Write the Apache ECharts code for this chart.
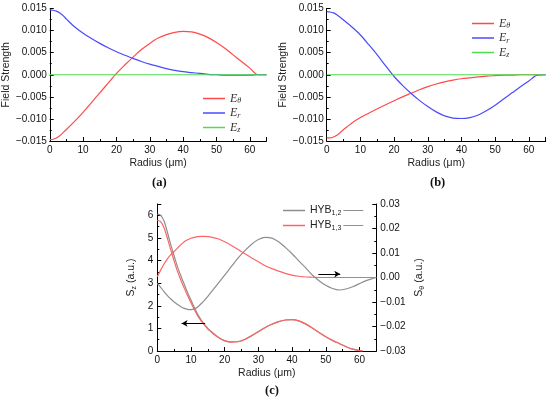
<!DOCTYPE html>
<html>
<head>
<meta charset="utf-8">
<script src="https://cdn.jsdelivr.net/npm/echarts@6/dist/echarts.min.js"></script>
<style>html,body{margin:0;padding:0;background:#fff;}#c{width:550px;height:404px;}</style>
</head>
<body>
<div id="c"></div>
<script>
// ---------- Panel (a) ----------
const aR = [0,1,2,3,4,5,7.5,10,12.5,15,17.5,20,22.5,25,27.5,30,32.5,35,37.5,40,42.5,45,47.5,50,52.5,55,57.5,60,62.5,65];
const aEtheta = [-0.0147,-0.0146,-0.0143,-0.0138,-0.0131,-0.0124,-0.0105,-0.0085,-0.0063,-0.0041,-0.0019,0.0003,0.0022,0.0040,0.0057,0.0071,0.0083,0.0091,0.0096,0.0098,0.0097,0.0092,0.0084,0.0073,0.0060,0.0045,0.0030,0.0015,0.0000,0.0000];
const aEr = [0.0147,0.0146,0.0144,0.0140,0.0134,0.0126,0.0108,0.0094,0.0082,0.0071,0.0061,0.0052,0.0044,0.0037,0.0030,0.0024,0.0019,0.0014,0.0010,0.0007,0.0005,0.0003,0.0001,0.0000,-0.0001,-0.0001,-0.0001,-0.0001,0.0000,0.0000];
const aEz = [0,0,0,0,0,0,0,0,0,0,0,0,0,0,0,0,0,0,0,0,0,0,0,0,0,0,0,0,0,0];

// ---------- Panel (b) ----------
const bR = [0,1,2,3,4,5,7.5,10,12.5,15,17.5,20,22.5,25,27.5,30,32.5,35,37.5,40,42.5,45,47.5,50,52.5,55,57.5,60,62.5,65];
const bEtheta = [-0.0143,-0.0143,-0.0141,-0.0137,-0.0131,-0.0124,-0.0109,-0.0097,-0.0087,-0.0077,-0.0068,-0.0059,-0.0050,-0.0042,-0.0034,-0.0027,-0.0021,-0.0016,-0.0012,-0.0009,-0.0007,-0.0005,-0.0003,-0.0002,-0.0001,-0.0001,0.0000,0.0000,0.0000,0.0000];
const bEr = [0.0143,0.0142,0.0140,0.0136,0.0130,0.0124,0.0108,0.0090,0.0068,0.0045,0.0020,-0.0004,-0.0024,-0.0042,-0.0058,-0.0072,-0.0084,-0.0093,-0.0098,-0.0099,-0.0097,-0.0091,-0.0081,-0.0069,-0.0055,-0.0041,-0.0027,-0.0014,-0.0001,0.0000];
const bEz = [0,0,0,0,0,0,0,0,0,0,0,0,0,0,0,0,0,0,0,0,0,0,0,0,0,0,0,0,0,0];

// ---------- Panel (c) ----------
const cRz = [0,1,2,3,4,5,6,7,8,9,10,11,12,13,14,15,16,18,20,22,24,26,28,30,32,34,36,38,40,42,44,46,48,50,52,54,56,58,60,61];
const szHyb12 = [6.05,6.00,5.75,5.25,4.70,4.20,3.72,3.32,2.95,2.58,2.25,1.92,1.62,1.38,1.18,1.00,0.86,0.62,0.46,0.40,0.42,0.52,0.68,0.86,1.04,1.18,1.30,1.37,1.39,1.33,1.20,1.02,0.82,0.63,0.47,0.33,0.19,0.08,0.02,0.00];
const szHyb13 = [5.78,5.72,5.45,4.98,4.47,3.98,3.52,3.13,2.78,2.44,2.13,1.83,1.55,1.33,1.14,0.97,0.84,0.61,0.45,0.39,0.41,0.51,0.67,0.85,1.03,1.18,1.30,1.37,1.39,1.33,1.20,1.02,0.82,0.63,0.47,0.33,0.19,0.08,0.02,0.00];
const cRt = [0,1,2,3,4,5,6,7,8,9,10,11,12,13,14,15,16,18,20,22,24,26,28,30,32,34,36,38,40,42,44,46,48,50,52,54,56,58,60,62,64,65];
const stHyb12 = [-0.0024,-0.0040,-0.0058,-0.0074,-0.0088,-0.0100,-0.0110,-0.0119,-0.0126,-0.0130,-0.0131,-0.0128,-0.0120,-0.0107,-0.0093,-0.0077,-0.0060,-0.0025,0.0010,0.0045,0.0080,0.0110,0.0136,0.0155,0.0164,0.0161,0.0146,0.0123,0.0097,0.0068,0.0040,0.0010,-0.0013,-0.0032,-0.0045,-0.0051,-0.0047,-0.0038,-0.0025,-0.0013,-0.0004,0.0000];
const stHyb13 = [0.0003,0.0030,0.0055,0.0076,0.0093,0.0106,0.0120,0.0134,0.0146,0.0154,0.0160,0.0164,0.0167,0.0168,0.0168,0.0167,0.0165,0.0158,0.0146,0.0131,0.0114,0.0097,0.0080,0.0064,0.0048,0.0036,0.0026,0.0017,0.0010,0.0005,0.0002,0.0001,0.0000,0.0000,0.0000,0.0000,0.0000,0.0000,0.0000,0.0000,0.0000,0.0000];

// tick ranges
const xTicks = {min: 0, max: 65, interval: 10};
const fieldTicks = {min: -0.015, max: 0.015, interval: 0.005};
const szTicks = {min: 0, max: 6.5, interval: 1};
const stTicks = {min: -0.03, max: 0.03, interval: 0.01};

const pairs = (xs, ys) => xs.map((x, i) => [x, ys[i]]);
const minus = v => (v < 0 ? '\u2212' : '');

const RED = '#ff4a4a', BLUE = '#4a4aff', GREEN = '#4ddd4d', GRAY = '#8e8e8e', RED2 = '#ff6464';
const SANS = '"Liberation Sans", Arial, sans-serif';
const SERIF = '"Liberation Serif", "Times New Roman", serif';

const tickStyle = {inside: true, length: 4, lineStyle: {color: '#000', width: 1}};
const minorStyle = {show: true, splitNumber: 2, length: 2, lineStyle: {color: '#000', width: 1}};
const lineStyle = {lineStyle: {color: '#000', width: 1}, onZero: false};
const labelStyle = {fontSize: 10, color: '#111', fontFamily: SANS};

function xAxisDef(gi) {
  return {
    type: 'value', gridIndex: gi, min: xTicks.min, max: xTicks.max, interval: xTicks.interval,
    axisLine: lineStyle, axisTick: tickStyle, minorTick: minorStyle, splitLine: {show: false},
    axisLabel: Object.assign({margin: 4, showMaxLabel: false, formatter: v => (v > 60 ? '' : String(v))}, labelStyle),
    name: 'Radius (\u03bcm)', nameLocation: 'middle', nameGap: 17,
    nameTextStyle: {fontSize: 10.5, color: '#222', fontFamily: SANS}
  };
}
function fieldAxis(gi) {
  return {
    type: 'value', gridIndex: gi, min: fieldTicks.min, max: fieldTicks.max, interval: fieldTicks.interval,
    axisLine: lineStyle, axisTick: tickStyle, minorTick: minorStyle, splitLine: {show: false},
    axisLabel: Object.assign({margin: 3, formatter: v => minus(v) + Math.abs(v).toFixed(3)}, labelStyle),
    name: 'Field Strength', nameLocation: 'middle', nameGap: 36,
    nameTextStyle: {fontSize: 10.5, color: '#222', fontFamily: SANS}
  };
}
const eRich = {
  e: {fontFamily: SERIF, fontStyle: 'italic', fontSize: 12, color: '#333', lineHeight: 13},
  s: {fontFamily: SERIF, fontStyle: 'italic', fontSize: 8, color: '#333', lineHeight: 7, verticalAlign: 'bottom'}
};
const eNames = {Et_a: '\u03b8', Er_a: 'r', Ez_a: 'z', Et_b: '\u03b8', Er_b: 'r', Ez_b: 'z'};
function eLegend(left, top, names) {
  return {
    show: true, orient: 'vertical', left: left, top: top, itemGap: 1.5, itemWidth: 22, itemHeight: 1.5,
    icon: 'rect', selectedMode: false, data: names, padding: 0,
    formatter: n => '{e|E}{s|' + eNames[n] + '}', textStyle: {rich: eRich, lineHeight: 13}
  };
}
const hybRich = {
  t: {fontFamily: SANS, fontSize: 10.5, color: '#222', lineHeight: 13},
  s: {fontFamily: SANS, fontSize: 7, color: '#222', lineHeight: 6, verticalAlign: 'bottom'},
  g: {width: 2, lineHeight: 13},
  lg: {width: 20, height: 1, lineHeight: 1, backgroundColor: GRAY},
  lr: {width: 20, height: 1, lineHeight: 1, backgroundColor: RED2}
};
const hybNames = {HYB12: ['1,2', 'lg'], HYB13: ['1,3', 'lr']};
const nameRich = {
  a: {fontSize: 10.5, color: '#222', fontFamily: SANS, lineHeight: 13},
  b: {fontSize: 7, color: '#222', fontFamily: SANS, lineHeight: 6, verticalAlign: 'bottom'}
};

function line(name, xi, yi, xs, ys, color, extra) {
  return Object.assign({
    type: 'line', name: name, xAxisIndex: xi, yAxisIndex: yi, data: pairs(xs, ys),
    showSymbol: false, symbol: 'none', smooth: 0.3, lineStyle: {color: color, width: 1.2}, itemStyle: {color: color},
    animation: false, silent: true
  }, extra || {});
}

const option = {
  backgroundColor: '#fff',
  animation: false,
  grid: [
    {left: 47.5, top: 8.5, width: 219, height: 132.5},
    {left: 326.7, top: 8.5, width: 219, height: 132.5},
    {left: 157.3, top: 204, width: 219, height: 147}
  ],
  xAxis: [xAxisDef(0), xAxisDef(1), xAxisDef(2)],
  yAxis: [
    fieldAxis(0),
    fieldAxis(1),
    {
      type: 'value', gridIndex: 2, position: 'left', min: szTicks.min, max: szTicks.max, interval: szTicks.interval,
      axisLine: lineStyle, axisTick: tickStyle, minorTick: minorStyle, splitLine: {show: false},
      axisLabel: Object.assign({margin: 4, showMaxLabel: false, formatter: v => (v > 6 ? '' : String(v))}, labelStyle),
      name: '{a|S}{b|z}{a| (a.u.)}', nameLocation: 'middle', nameGap: 20,
      nameTextStyle: {rich: nameRich}
    },
    {
      type: 'value', gridIndex: 2, position: 'right', min: stTicks.min, max: stTicks.max, interval: stTicks.interval,
      axisLine: lineStyle, axisTick: tickStyle, minorTick: minorStyle, splitLine: {show: false},
      axisLabel: Object.assign({margin: 4, formatter: v => minus(v) + Math.abs(v).toFixed(2)}, labelStyle),
      name: '{a|S}{b|\u03b8}{a| (a.u.)}', nameLocation: 'middle', nameGap: 36,
      nameTextStyle: {rich: nameRich}
    }
  ],
  legend: [
    eLegend(203, 92, ['Et_a', 'Er_a', 'Ez_a']),
    eLegend(472, 17, ['Et_b', 'Er_b', 'Ez_b']),
    {
      show: true, orient: 'vertical', left: 283, top: 204, itemGap: 2, itemWidth: 22, itemHeight: 1.5,
      icon: 'rect', selectedMode: false, data: ['HYB12', 'HYB13'], padding: 0,
      formatter: n => '{t|HYB}{s|' + hybNames[n][0] + '}{g| }{' + hybNames[n][1] + '| }',
      textStyle: {rich: hybRich, lineHeight: 13}
    }
  ],
  graphic: [
    {type: 'text', left: 152, top: 176, style: {text: '(a)', font: 'bold 12.5px ' + SERIF, fill: '#111'}},
    {type: 'text', left: 430, top: 176, style: {text: '(b)', font: 'bold 12.5px ' + SERIF, fill: '#111'}},
    {type: 'text', left: 265, top: 384, style: {text: '(c)', font: 'bold 12.5px ' + SERIF, fill: '#111'}}
  ],
  series: [
    line('Et_a', 0, 0, aR, aEtheta, RED),
    line('Er_a', 0, 0, aR, aEr, BLUE),
    line('Ez_a', 0, 0, aR, aEz, GREEN),
    line('Et_b', 1, 1, bR, bEtheta, RED),
    line('Er_b', 1, 1, bR, bEr, BLUE),
    line('Ez_b', 1, 1, bR, bEz, GREEN),
    line('HYB12', 2, 2, cRz, szHyb12, GRAY, {
      markLine: {silent: true, animation: false, symbol: ['none', 'arrow'], symbolSize: [5, 6], label: {show: false},
        lineStyle: {color: '#000', width: 1, type: 'solid'},
        data: [[{coord: [14.2, 1.22]}, {coord: [7.2, 1.22]}]]}
    }),
    line('HYB13', 2, 2, cRz, szHyb13, RED2),
    line('HYB12', 2, 3, cRt, stHyb12, GRAY, {
      markLine: {silent: true, animation: false, symbol: ['none', 'arrow'], symbolSize: [5, 6], label: {show: false},
        lineStyle: {color: '#000', width: 1, type: 'solid'},
        data: [[{coord: [47.8, 0.0014]}, {coord: [54.3, 0.0014]}]]}
    }),
    line('HYB13', 2, 3, cRt, stHyb13, RED2)
  ]
};
const chart = echarts.init(document.getElementById('c'), null, {renderer: 'canvas'});
chart.setOption(option);
</script>
</body>
</html>
